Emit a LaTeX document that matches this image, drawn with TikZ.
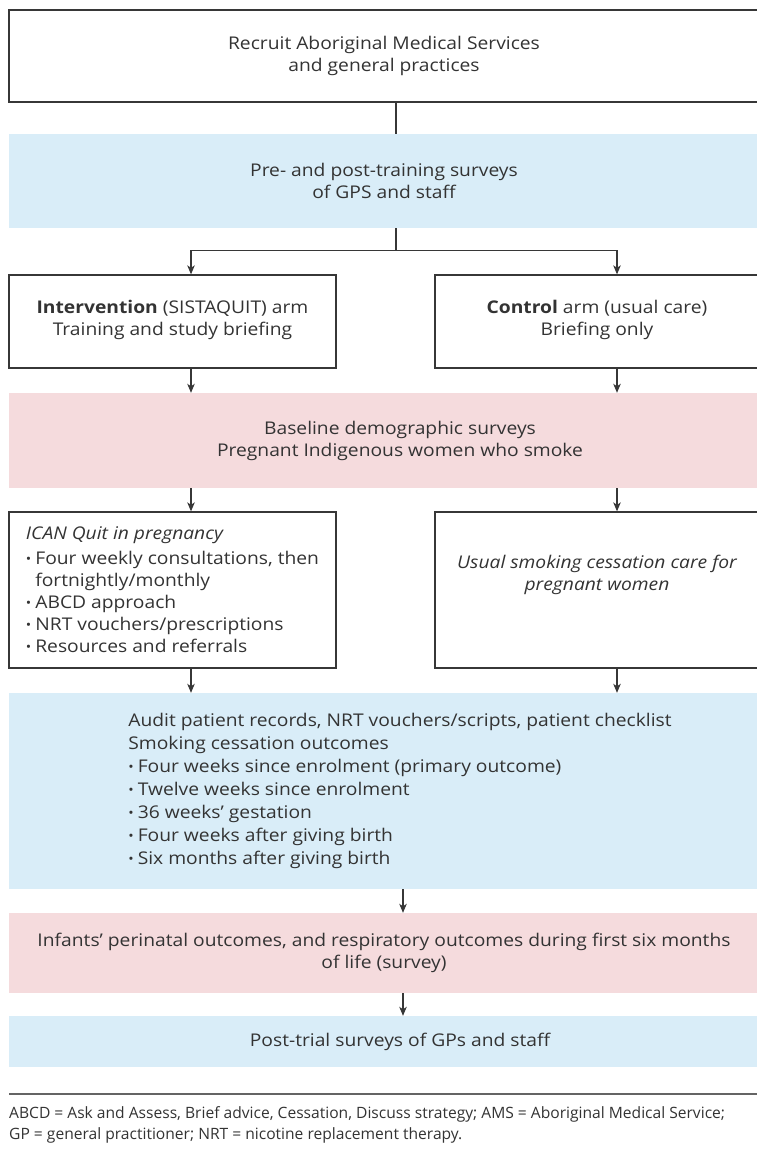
\documentclass[tikz,border=0pt]{standalone}
\usepackage{fontspec}
\setmainfont[FakeStretch=1.1]{Open Sans}
\newfontfamily\notefont{Open Sans}
\usetikzlibrary{arrows.meta}
\definecolor{fillblue}{RGB}{217,237,248}
\definecolor{fillpink}{RGB}{245,219,221}
\definecolor{textgray}{RGB}{51,51,51}
\definecolor{linegray}{RGB}{55,55,55}
\definecolor{rulegray}{RGB}{100,100,100}
\newcommand\boxfont{\fontsize{17.5}{22}\selectfont}
\newcommand\itemdot{\raisebox{1pt}{\fontsize{13}{13}\selectfont\textbullet}\hspace{4pt}}
\tikzset{
	flowbox/.style = {
		align=center,
		inner sep=0pt,
		text centered,
		font=\boxfont,
		text=textgray,
		rectangle
	},
	box_w/.style = {
		flowbox,
		draw=linegray,
		line width=1.3pt,
		fill=white
	},
	box_blue/.style = {
		flowbox,
		fill=fillblue
	},
	box_pink/.style = {
		flowbox,
		fill=fillpink
	},
	box_wide/.style = {
		minimum width=750pt
	},
	box_wider/.style = {
		minimum width=782pt
	},
	box_half/.style = {
		minimum width=327pt
	},
	link/.style = {
		draw=linegray,
		line width=1.2pt
	},
}

\begin{document}
\begin{tikzpicture}[x=1pt,y=-1pt,>={Stealth[length=9pt,width=7.5pt,inset=2.5pt]}]
\clip (0,0) rectangle (757,1149);
\fill[white] (0,0) rectangle (757,1149);
% columns of the connectors
\coordinate (col_top) at (396,0);
\coordinate (col_l) at (191,0);
\coordinate (col_r) at (617,0);
\coordinate (col_c) at (403,0);
% boxes
\node [box_w, box_wide, minimum height=92pt] (recruit) at (384,56) {Recruit Aboriginal Medical Services\\and general practices};
\node [box_blue, box_wide, minimum height=94pt] (gps) at (384,181) {Pre- and post-training surveys\\of GPS and staff};
\node [box_w, box_half, minimum height=93pt] (intervention) at (172.5,321.5) {{\bfseries Intervention} (SISTAQUIT) arm\\Training and study briefing\\[-14pt]};
\node [box_w, minimum width=324pt, minimum height=93pt] (control) at (597,321.5) {{\bfseries Control} arm (usual care)\\Briefing only\\[-14pt]};
\node [box_pink, box_wider, minimum height=95pt] (baseline) at (400,440.5) {Baseline demographic surveys\\Pregnant Indigenous women who smoke};
\node [box_w, box_half, minimum height=156pt, align=left] (ican) at (172.5,590) {{\itshape ICAN Quit in pregnancy}\\[3pt]
	\itemdot Four weekly consultations, then\\
	\hphantom{\itemdot}fortnightly/monthly\\
	\itemdot ABCD approach\\
	\itemdot NRT vouchers/prescriptions\\
	\itemdot Resources and referrals};
\node [box_w, minimum width=324pt, minimum height=156pt] (usual) at (597,590) {\itshape Usual smoking cessation care for\\\itshape pregnant women\\[12pt]};
\node [box_blue, box_wider, minimum height=196pt, align=left, font=\fontsize{17.5}{23}\selectfont] (audit) at (400,791) {Audit patient records, NRT vouchers/scripts, patient checklist\\
	Smoking cessation outcomes\\
	\itemdot Four weeks since enrolment (primary outcome)\\
	\itemdot Twelve weeks since enrolment\\
	\itemdot 36 weeks' gestation\\
	\itemdot Four weeks after giving birth\\
	\itemdot Six months after giving birth};
\node [box_pink, box_wide, minimum height=80pt] (infants) at (384,953) {Infants' perinatal outcomes, and respiratory outcomes during first six months\\of life (survey)};
\node [box_blue, box_wider, minimum height=51pt] (posttrial) at (400,1041.5) {Post-trial surveys of GPs and staff};
% connectors
\draw [link] (col_top |- recruit.south) -- (col_top |- gps.north);
\draw [link] (col_top |- gps.south) -- ++(0,22) coordinate (split);
\draw [link,->] (split) -| (col_l |- intervention.north);
\draw [link,->] (split) -| (col_r |- control.north);
\draw [link,->] (col_l |- intervention.south) -- (col_l |- baseline.north);
\draw [link,->] (col_r |- control.south) -- (col_r |- baseline.north);
\draw [link,->] (col_l |- baseline.south) -- (col_l |- ican.north);
\draw [link,->] (col_r |- baseline.south) -- (col_r |- usual.north);
\draw [link,->] (col_l |- ican.south) -- (col_l |- audit.north);
\draw [link,->] (col_r |- usual.south) -- (col_r |- audit.north);
\draw [link,->] (col_c |- audit.south) -- (col_c |- infants.north);
\draw [link,->] (col_c |- infants.south) -- (col_c |- posttrial.north);
% footnote
\coordinate (rule_l) at (9,1094);
\coordinate (rule_r) at (757,1094);
\draw [rulegray, line width=2pt] (rule_l) -- (rule_r);
\node [anchor=north west, inner sep=0pt, align=left, text=textgray, font=\notefont\fontsize{15.6}{21}\selectfont] (notes) at (9,1106) {ABCD = Ask and Assess, Brief advice, Cessation, Discuss strategy; AMS = Aboriginal Medical Service;\\GP = general practitioner; NRT = nicotine replacement therapy.};
\end{tikzpicture}
\end{document}
